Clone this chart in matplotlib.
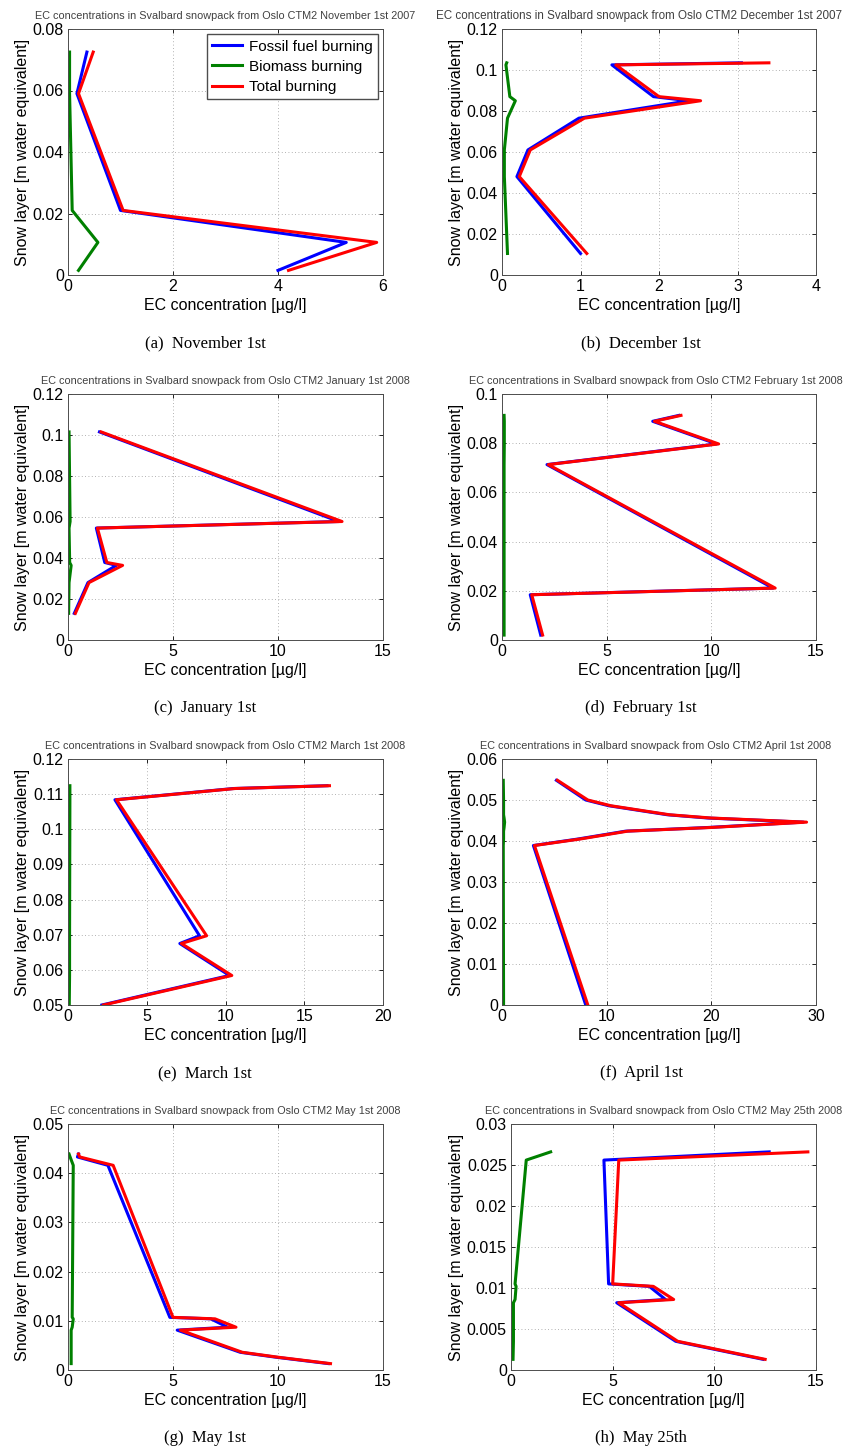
import matplotlib
matplotlib.use("Agg")
import matplotlib.pyplot as plt
from matplotlib.ticker import FuncFormatter, MultipleLocator

# EC profiles in the Svalbard snowpack (Oslo CTM2), depth in m water equivalent
depth_nov = [0.0015, 0.0106, 0.021, 0.059, 0.0725]
fossil_nov = [4.0, 5.3, 1.0, 0.17, 0.36]
biomass_nov = [0.2, 0.57, 0.08, 0.03, 0.03]
total_nov = [4.2, 5.88, 1.05, 0.2, 0.48]

depth_dec = [0.0105, 0.048, 0.061, 0.0765, 0.085, 0.087, 0.1025, 0.1035]
fossil_dec = [1.0, 0.19, 0.33, 0.98, 2.38, 1.93, 1.40, 3.05]
biomass_dec = [0.07, 0.03, 0.03, 0.07, 0.17, 0.10, 0.05, 0.06]
total_dec = [1.08, 0.22, 0.36, 1.05, 2.53, 2.0, 1.45, 3.4]

depth_jan = [0.013, 0.028, 0.0364, 0.0378, 0.0546, 0.0578, 0.1015]
fossil_jan = [0.3, 0.95, 2.3, 1.75, 1.35, 12.9, 1.5]
biomass_jan = [0.03, 0.05, 0.15, 0.08, 0.05, 0.1, 0.05]
total_jan = [0.35, 1.0, 2.6, 1.85, 1.4, 13.05, 1.58]

depth_feb = [0.002, 0.0184, 0.0211, 0.0713, 0.0797, 0.0889, 0.0913]
fossil_feb = [1.85, 1.35, 12.95, 2.15, 10.25, 7.2, 8.45]
biomass_feb = [0.1, 0.1, 0.1, 0.1, 0.11, 0.11, 0.1]
total_feb = [1.94, 1.42, 13.05, 2.21, 10.35, 7.28, 8.55]

depth_mar = [0.05, 0.0584, 0.0675, 0.0697, 0.1084, 0.1116, 0.1124]
fossil_mar = [2.15, 10.25, 7.1, 8.35, 2.98, 10.5, 16.45]
biomass_mar = [0.08, 0.1, 0.1, 0.1, 0.12, 0.12, 0.12]
total_mar = [2.25, 10.4, 7.2, 8.8, 3.08, 10.6, 16.6]

depth_apr = [0.0, 0.0389, 0.0405, 0.0424, 0.0433, 0.0446, 0.0456, 0.0464, 0.0486, 0.05, 0.0548]
fossil_apr = [8.0, 3.0, 7.3, 11.8, 19.7, 28.8, 19.7, 15.8, 10.2, 8.0, 5.2]
biomass_apr = [0.15, 0.12, 0.15, 0.15, 0.2, 0.25, 0.2, 0.15, 0.15, 0.15, 0.12]
total_apr = [8.2, 3.1, 7.5, 12.0, 20.0, 29.1, 20.0, 16.0, 10.4, 8.2, 5.3]

depth_may = [0.0013, 0.0026, 0.0036, 0.0081, 0.0087, 0.0104, 0.0107, 0.0416, 0.0433, 0.0439]
fossil_may = [12.4, 9.9, 8.2, 5.2, 7.6, 6.8, 4.85, 1.9, 0.45, 0.5]
biomass_may = [0.15, 0.15, 0.15, 0.15, 0.2, 0.25, 0.2, 0.25, 0.1, 0.05]
total_may = [12.5, 10.0, 8.3, 5.35, 8.0, 7.0, 5.0, 2.15, 0.56, 0.5]

depth_may25 = [0.0013, 0.0035, 0.0082, 0.0086, 0.0102, 0.0105, 0.0256, 0.0266]
fossil_may25 = [12.4, 8.1, 5.2, 7.6, 6.8, 4.8, 4.57, 12.7]
biomass_may25 = [0.1, 0.12, 0.12, 0.2, 0.25, 0.2, 0.75, 1.95]
total_may25 = [12.5, 8.2, 5.3, 8.0, 7.0, 5.0, 5.3, 14.6]

dates = ["November 1st 2007", "December 1st 2007", "January 1st 2008", "February 1st 2008",
         "March 1st 2008", "April 1st 2008", "May 1st 2008", "May 25th 2008"]
captions = ["(a)  November 1st", "(b)  December 1st", "(c)  January 1st", "(d)  February 1st",
            "(e)  March 1st", "(f)  April 1st", "(g)  May 1st", "(h)  May 25th"]

W, H = 847, 1455
fig = plt.figure(figsize=(W / 100, H / 100), dpi=100)
fig.patch.set_facecolor("white")

SANS = "Liberation Sans"
SERIF = "Liberation Serif"

# (depth, fossil, biomass, total, xmax, xstep, ymin, ymax, ystep, left px, title size, title x)
panels = [
    (depth_nov, fossil_nov, biomass_nov, total_nov, 6, 2, 0, 0.08, 0.02, 68, 7.8, 0.5),
    (depth_dec, fossil_dec, biomass_dec, total_dec, 4, 1, 0, 0.12, 0.02, 502, 8.4, 0.435),
    (depth_jan, fossil_jan, biomass_jan, total_jan, 15, 5, 0, 0.12, 0.02, 68, 7.8, 0.5),
    (depth_feb, fossil_feb, biomass_feb, total_feb, 15, 5, 0, 0.1, 0.02, 502, 7.8, 0.49),
    (depth_mar, fossil_mar, biomass_mar, total_mar, 20, 5, 0.05, 0.12, 0.01, 68, 7.8, 0.5),
    (depth_apr, fossil_apr, biomass_apr, total_apr, 30, 10, 0, 0.06, 0.01, 502, 7.8, 0.49),
    (depth_may, fossil_may, biomass_may, total_may, 15, 5, 0, 0.05, 0.01, 68, 7.8, 0.5),
    (depth_may25, fossil_may25, biomass_may25, total_may25, 15, 5, 0, 0.03, 0.005, 511, 7.8, 0.5),
]

fmt = FuncFormatter(lambda v, pos: "%g" % round(v, 6))

for i, (d, fos, bio, tot, xmax, xstep, ymin, ymax, ystep, left, tsize, tx) in enumerate(panels):
    row = i // 2
    right = 383 if i % 2 == 0 else 816
    top = 29 + 365 * row
    height = 246
    ax = fig.add_axes([left / W, 1 - (top + height) / H, (right - left) / W, height / H])

    ax.plot(fos, d, color=(0, 0, 1), lw=2.2, label="Fossil fuel burning")
    ax.plot(bio, d, color=(0, 0.5, 0), lw=2.2, label="Biomass burning")
    ax.plot(tot, d, color=(1, 0, 0), lw=2.2, label="Total burning")

    ax.set_xlim(0, xmax)
    ax.set_ylim(ymin, ymax)
    ax.xaxis.set_major_locator(MultipleLocator(xstep))
    ax.yaxis.set_major_locator(MultipleLocator(ystep))
    ax.xaxis.set_major_formatter(fmt)
    ax.yaxis.set_major_formatter(fmt)
    ax.tick_params(direction="in", length=3, width=0.6, top=True, right=True,
                   labelsize=11.5, pad=3)
    for lab in ax.get_xticklabels() + ax.get_yticklabels():
        lab.set_family(SANS)
    ax.grid(True, color="0.6", linestyle=(0, (1, 3)), linewidth=0.6)
    for sp in ax.spines.values():
        sp.set_linewidth(0.7)
        sp.set_color("0.3")

    ax.set_title("EC concentrations in Svalbard snowpack from Oslo CTM2 " + dates[i],
                 fontsize=tsize, family=SANS, color="0.25", pad=7, x=tx)
    ax.set_xlabel("EC concentration [µg/l]", fontsize=11.5, family=SANS, labelpad=3)
    ax.set_ylabel("Snow layer [m water equivalent]", fontsize=11.5, family=SANS, labelpad=2)

    if i == 0:
        ax.legend(loc="upper right", prop={"family": SANS, "size": 11},
                  fancybox=False, edgecolor="0.3", framealpha=1, borderpad=0.35,
                  handlelength=2.0, handletextpad=0.4, labelspacing=0.4,
                  borderaxespad=0.35)

    cx = 205 if i % 2 == 0 else 641
    cy = 343 + 365 * row
    fig.text(cx / W, 1 - cy / H, captions[i], ha="center", va="center",
             fontsize=12, family=SERIF)

fig.savefig("out.png", dpi=100, facecolor="white")
